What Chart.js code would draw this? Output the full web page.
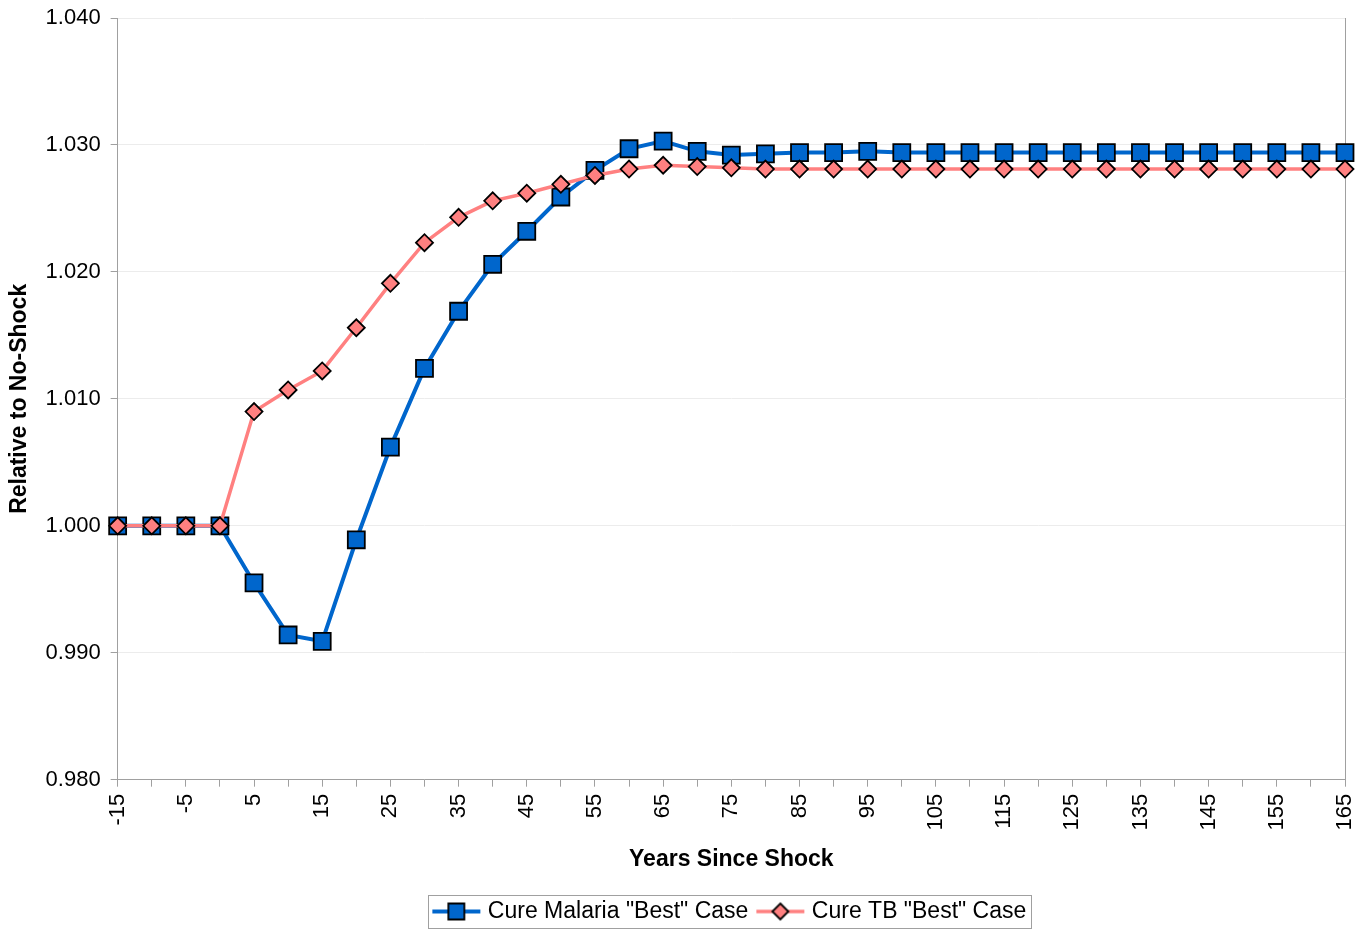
<!DOCTYPE html>
<html>
<head>
<meta charset="utf-8">
<script src="https://cdn.jsdelivr.net/npm/chart.js@4.4.1/dist/chart.umd.min.js"></script>
<style>
  html, body { margin: 0; padding: 0; background: #fff; }
  #wrap { width: 1369px; height: 933px; }
</style>
</head>
<body>
<div id="wrap"><canvas id="line-chart"></canvas></div>
<script>
// x categories (years since shock)
var years = [-15,-10,-5,0,5,10,15,20,25,30,35,40,45,50,55,60,65,70,75,80,85,90,95,100,105,110,115,120,125,130,135,140,145,150,155,160,165];

// values
var malaria = [1.000,1.000,1.000,1.000,0.9955,0.9914,0.9909,0.9989,1.0062,1.0124,1.0169,1.0206,1.0232,1.0259,1.0280,1.0297,1.0303,1.0295,1.0292,1.0293,1.0294,1.0294,1.0295,1.0294,1.0294,1.0294,1.0294,1.0294,1.0294,1.0294,1.0294,1.0294,1.0294,1.0294,1.0294,1.0294,1.0294];
var tb = [1.000,1.000,1.000,1.000,1.0090,1.0107,1.0122,1.0156,1.0191,1.0223,1.0243,1.0256,1.0262,1.0269,1.0276,1.0281,1.0284,1.0283,1.0282,1.0281,1.0281,1.0281,1.0281,1.0281,1.0281,1.0281,1.0281,1.0281,1.0281,1.0281,1.0281,1.0281,1.0281,1.0281,1.0281,1.0281,1.0281];

var yTicks = [0.980, 0.990, 1.000, 1.010, 1.020, 1.030, 1.040];

var FONT = "'Liberation Sans', Arial, sans-serif";
var AXIS = '#a0a0a0';

// small legend symbols: line with marker through it
function legendIcon(color, lineW, shape) {
  var c = document.createElement('canvas');
  c.width = 50; c.height = 22;
  var g = c.getContext('2d');
  g.strokeStyle = color; g.lineWidth = lineW;
  g.beginPath(); g.moveTo(1, 11); g.lineTo(49, 11); g.stroke();
  g.fillStyle = color; g.strokeStyle = '#000'; g.lineWidth = 1.8;
  g.beginPath();
  if (shape === 'rect') {
    g.rect(17, 3, 16, 16);
  } else {
    g.moveTo(25, 3); g.lineTo(33, 11); g.lineTo(25, 19); g.lineTo(17, 11); g.closePath();
  }
  g.fill(); g.stroke();
  return c;
}
var icons = [legendIcon('#0066cc', 4, 'rect'), legendIcon('#ff8080', 3.5, 'diamond')];

var legendBorder = {
  id: 'legendBorder',
  afterDraw: function (chart) {
    var boxes = chart.legend && chart.legend.legendHitBoxes;
    if (!boxes || !boxes.length) return;
    var l = Infinity, r = -Infinity, t = Infinity, b = -Infinity;
    boxes.forEach(function (h) {
      l = Math.min(l, h.left); r = Math.max(r, h.left + h.width);
      t = Math.min(t, h.top); b = Math.max(b, h.top + h.height);
    });
    var ctx = chart.ctx;
    ctx.save();
    ctx.strokeStyle = '#a0a0a0'; ctx.lineWidth = 1;
    ctx.strokeRect(Math.round(l - 8) + 0.5, Math.round(t - 5) + 0.5, Math.round(r - l + 13), Math.round(b - t + 10));
    ctx.restore();
  }
};

new Chart(document.getElementById("line-chart"), {
  type: 'line',
  data: {
    labels: years,
    datasets: [{
        data: malaria,
        label: 'Cure Malaria "Best" Case',
        borderColor: "#0066cc",
        backgroundColor: "#0066cc",
        borderWidth: 4,
        pointStyle: 'rect',
        pointRadius: 12,
        pointBorderColor: '#000',
        pointBorderWidth: 1.8,
        order: 2,
        fill: false
      }, {
        data: tb,
        label: 'Cure TB "Best" Case',
        borderColor: "#ff8080",
        backgroundColor: "#ff8080",
        borderWidth: 3.5,
        pointStyle: 'rectRot',
        pointRadius: 8.5,
        pointBorderColor: '#000',
        pointBorderWidth: 1.8,
        order: 1,
        fill: false
      }
    ]
  },
  options: {
    responsive: true,
    maintainAspectRatio: false,
    animation: false,
    layout: { padding: { left: 0, right: 24, top: 0, bottom: 0 } },
    plugins: {
      tooltip: { enabled: false },
      legend: {
        position: 'bottom',
        fullSize: false,
        labels: {
          usePointStyle: true,
          pointStyleWidth: 40,
          boxHeight: 22,
          padding: 12,
          color: '#000',
          font: { family: FONT, size: 23 },
          sort: function (a, b) { return a.datasetIndex - b.datasetIndex; },
          generateLabels: function (chart) {
            var items = Chart.defaults.plugins.legend.labels.generateLabels(chart);
            items.forEach(function (it) { it.pointStyle = icons[it.datasetIndex]; });
            return items;
          }
        }
      }
    },
    scales: {
      x: {
        offset: false,
        border: { color: AXIS, width: 1 },
        grid: {
          tickLength: 7,
          tickColor: AXIS,
          color: function (c) { return c.index === years.length - 1 ? AXIS : 'rgba(0,0,0,0)'; }
        },
        // let the last rotated label hang into the right margin
        afterFit: function (scale) { scale.paddingRight = 10; },
        ticks: {
          autoSkip: false,
          maxRotation: 90,
          minRotation: 90,
          padding: 7,
          color: '#000',
          font: { family: FONT, size: 22 },
          callback: function (v, i) { return i % 2 === 0 ? String(years[i]) : ''; }
        },
        title: {
          display: true,
          text: 'Years Since Shock',
          color: '#000',
          font: { family: FONT, size: 23, weight: 'bold' },
          padding: { top: 8, bottom: 15 }
        }
      },
      y: {
        min: 0.98,
        max: 1.04,
        border: { color: AXIS, width: 1 },
        grid: { color: '#ececec', tickColor: AXIS, tickLength: 7 },
        afterBuildTicks: function (axis) {
          axis.ticks = yTicks.map(function (v) { return { value: v }; });
        },
        afterFit: function (scale) { scale.paddingTop = 18; },
        ticks: {
          padding: 10,
          color: '#000',
          font: { family: FONT, size: 22 },
          callback: function (v) { return Number(v).toFixed(3); }
        },
        title: {
          display: true,
          text: 'Relative to No-Shock',
          color: '#000',
          font: { family: FONT, size: 23, weight: 'bold' },
          padding: { top: 6, bottom: 2 }
        }
      }
    }
  },
  plugins: [legendBorder]
});
</script>
</body>
</html>
